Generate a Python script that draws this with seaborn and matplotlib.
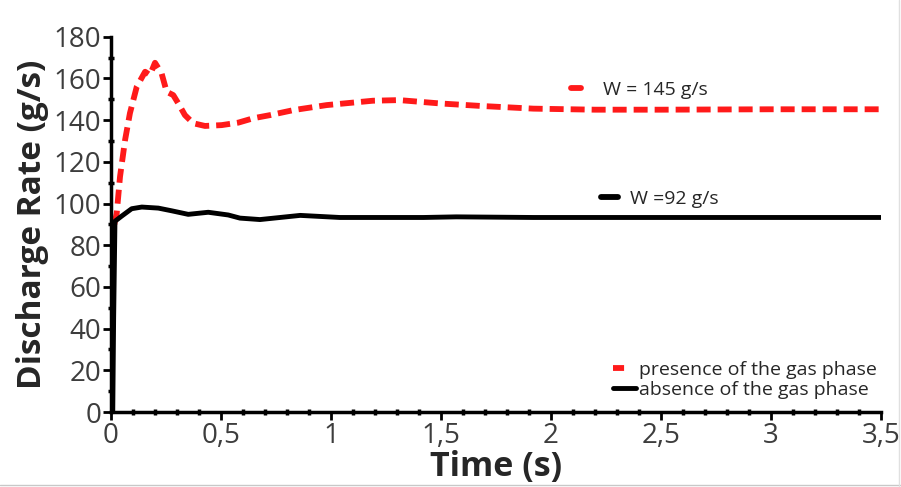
import numpy as np
import pandas as pd
import matplotlib.pyplot as plt
import seaborn as sns
from matplotlib.lines import Line2D
from matplotlib.ticker import MultipleLocator

# valeurs
t_gas = [0.015, 0.026, 0.041, 0.064, 0.086, 0.117, 0.155, 0.177, 0.2, 0.23,
         0.253, 0.283, 0.306, 0.336, 0.374, 0.427, 0.503, 0.579, 0.647, 0.723,
         0.829, 0.98, 1.19, 1.31, 1.495, 1.68, 1.92, 2.2, 2.5, 3.0, 3.5]
q_gas = [90.0, 95.3, 112.9, 130.5, 143.3, 156.0, 163.2, 161.6, 167.5, 162.4,
         153.6, 152.0, 148.0, 142.4, 138.5, 137.2, 137.6, 138.8, 140.9, 142.4,
         144.8, 147.2, 149.3, 149.6, 148.0, 146.8, 145.5, 145.0, 145.0, 145.2,
         145.2]

t_liq = [0.008, 0.012, 0.018, 0.049, 0.094, 0.14, 0.215, 0.276, 0.351, 0.442,
         0.533, 0.586, 0.677, 0.86, 1.04, 1.42, 1.57, 1.92, 2.5, 3.0, 3.5]
q_liq = [0.0, 45.0, 91.5, 94.0, 97.5, 98.3, 97.8, 96.5, 94.8, 95.8,
         94.5, 93.0, 92.3, 94.3, 93.3, 93.3, 93.6, 93.3, 93.3, 93.3, 93.3]

x_ticks = [0, 0.5, 1, 1.5, 2, 2.5, 3, 3.5]
x_tick_labels = ["0", "0,5", "1", "1,5", "2", "2,5", "3", "3,5"]
y_ticks = [0, 20, 40, 60, 80, 100, 120, 140, 160, 180]

label_gas = "presence of the gas phase"
label_liq = "absence of the gas phase"
note_gas = "W = 145 g/s"
note_liq = "W =92 g/s"

df_gas = pd.DataFrame({"t": t_gas, "q": q_gas})
df_liq = pd.DataFrame({"t": t_liq, "q": q_liq})

sns.set_style("ticks")
plt.rcParams['font.family'] = ['Open Sans', 'DejaVu Sans']

fig = plt.figure(figsize=(9.01, 4.87), dpi=100)
ax = fig.add_axes([0.1232, 0.154, 0.8546, 0.7706])

sns.lineplot(data=df_gas, x="t", y="q", ax=ax, color="#ff1a1a", lw=4.2,
             estimator=None, sort=False)
ax.lines[-1].set_dashes((2.4, 1.2))
ax.lines[-1].set_solid_joinstyle("round")
sns.lineplot(data=df_liq, x="t", y="q", ax=ax, color="black", lw=3.5,
             estimator=None, sort=False)
ax.lines[-1].set_solid_joinstyle("round")

ax.set_xlim(0, 3.5)
ax.set_ylim(0, 180)
ax.set_xticks(x_ticks)
ax.set_xticklabels(x_tick_labels)
ax.set_yticks(y_ticks)
ax.xaxis.set_minor_locator(MultipleLocator(0.1))
ax.yaxis.set_minor_locator(MultipleLocator(10))

for s in ["top", "right"]:
    ax.spines[s].set_visible(False)
for s in ["left", "bottom"]:
    ax.spines[s].set_linewidth(2.5)
    ax.spines[s].set_color("black")

ax.tick_params(which="major", direction="out", length=6, width=2,
               color="black", labelsize=20, labelcolor="#3d3d3d", pad=1)
ax.tick_params(which="minor", direction="inout", length=5, width=2.5,
               color="black")

ax.set_xlabel("Time (s)", fontsize=24.5, fontweight="bold", labelpad=0)
ax.set_ylabel("Discharge Rate (g/s)", fontsize=24, fontweight="bold", labelpad=3)

# légende du bas : tiret rouge court, trait noir plus long
h_gas = Line2D([], [], color="#ff1a1a", lw=4.2, dashes=(1.9, 20))
h_liq = Line2D([], [], color="black", lw=3.5)
leg = ax.legend([h_gas, h_liq], [label_gas, label_liq], loc="center left",
                bbox_to_anchor=(0.652, 0.086), frameon=False, fontsize=14,
                handlelength=1.2, handletextpad=0.15, labelspacing=0.08,
                borderpad=0, borderaxespad=0)
ax.add_artist(leg)

# annotations des débits
leg1 = ax.legend([Line2D([], [], color="#ff1a1a", lw=4.2)], [note_gas],
                 loc="center left", bbox_to_anchor=(0.597, 0.858), frameon=False,
                 fontsize=14, handlelength=0.55, handletextpad=1.1,
                 borderpad=0, borderaxespad=0)
ax.add_artist(leg1)
ax.legend([Line2D([], [], color="black", lw=4.2)], [note_liq],
          loc="center left", bbox_to_anchor=(0.636, 0.567), frameon=False,
          fontsize=14, handlelength=0.9, handletextpad=0.6,
          borderpad=0, borderaxespad=0)

# cadre gris de l'image
fig.add_artist(Line2D([0, 1], [0.004, 0.004], transform=fig.transFigure,
                      color="#c8c8c8", lw=1))
fig.add_artist(Line2D([0.998, 0.998], [0, 1], transform=fig.transFigure,
                      color="#e0e0e0", lw=1))

fig.savefig("out.png", dpi=100)
